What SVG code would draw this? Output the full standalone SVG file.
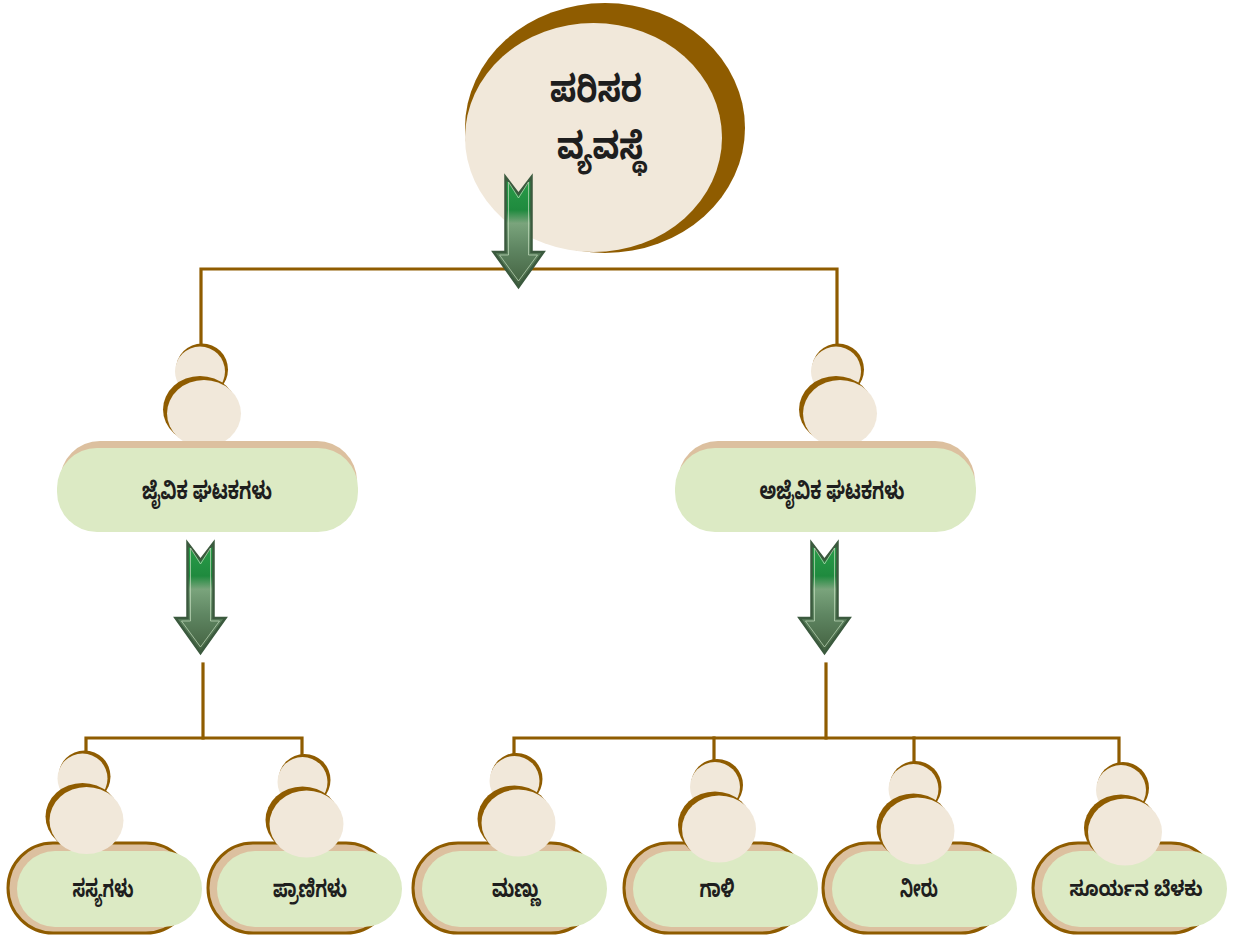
<svg xmlns="http://www.w3.org/2000/svg" xmlns:xlink="http://www.w3.org/1999/xlink" width="1233" height="940" viewBox="0 0 1233 940">
<style>
.ln{fill:none;stroke:#8f5c00;stroke-width:3.2;stroke-linecap:square}
.tx{font-family:"Noto Sans Kannada","Lohit Kannada","Noto Sans",sans-serif;font-weight:bold;fill:#1e1e1e;text-anchor:middle}
.tan{fill:#dcc09f}
.grn{fill:#dceac4}
.obox{fill:#dcc09f;stroke:#8f5c00;stroke-width:3}
</style>
<defs>
<linearGradient id="ag" x1="0" y1="0" x2="0" y2="1">
<stop offset="0" stop-color="#2a9e4a"/>
<stop offset="0.3" stop-color="#1f8a3e"/>
<stop offset="0.42" stop-color="#7aa47c"/>
<stop offset="0.65" stop-color="#5f8662"/>
<stop offset="1" stop-color="#42603f"/>
</linearGradient>
<g id="arrow">
<polygon points="-13,0 0,17 13,0 13,75 25,75 0,110 -25,75 -13,75" fill="url(#ag)" stroke="#3b5a3e" stroke-width="2.5" stroke-linejoin="miter"/>
<polygon points="-10,5 0,21 10,5 10,78 19,78 0,104 -19,78 -10,78" fill="none" stroke="#c3dcbd" stroke-opacity="0.7" stroke-width="1"/>
</g>
<g id="bulb">
<circle cx="-2" cy="-44" r="26" fill="#8f5c00"/>
<circle cx="-4" cy="-42" r="25" fill="#f1e8da"/>
<ellipse cx="-4" cy="-4" rx="37" ry="33.5" fill="#8f5c00"/>
<ellipse cx="0" cy="0" rx="37" ry="33.5" fill="#f1e8da"/>
</g>
</defs>
<rect width="1233" height="940" fill="#ffffff"/>

<g id="connectors">
<polyline class="ln" points="201,345 201,269 837,269 837,345"/>
<line class="ln" x1="203" y1="664" x2="203" y2="738"/>
<polyline class="ln" points="86,751 86,738 302,738 302,754"/>
<line class="ln" x1="826" y1="664" x2="826" y2="738"/>
<polyline class="ln" points="514,754 514,738 1119,738 1119,762"/>
<line class="ln" x1="714" y1="738" x2="714" y2="759"/>
<line class="ln" x1="914" y1="738" x2="914" y2="763"/>
</g>

<g id="node-root">
<ellipse cx="605" cy="128" rx="140" ry="125" fill="#8f5c00"/>
<ellipse cx="593.5" cy="137.5" rx="128.5" ry="114.5" fill="#f1e8da"/>
<text class="tx" x="596" y="102" font-size="37" textLength="92" lengthAdjust="spacingAndGlyphs">ಪರಿಸರ</text>
<text class="tx" x="601" y="159" font-size="37" textLength="88" lengthAdjust="spacingAndGlyphs">ವ್ಯವಸ್ಥೆ</text>
</g>

<g id="arrows">
<use xlink:href="#arrow" href="#arrow" transform="translate(518.5,177)"/>
<use xlink:href="#arrow" href="#arrow" transform="translate(200.5,543)"/>
<use xlink:href="#arrow" href="#arrow" transform="translate(824.5,543)"/>
</g>

<g id="node-biotic">
<use xlink:href="#bulb" href="#bulb" transform="translate(204,413.5)"/>
<rect class="tan" x="60" y="441" width="297" height="80" rx="40"/>
<rect class="grn" x="57" y="448" width="301" height="84" rx="40"/>
<text class="tx" x="207" y="499" font-size="24" textLength="130" lengthAdjust="spacingAndGlyphs">ಜೈವಿಕ ಘಟಕಗಳು</text>
</g>

<g id="node-abiotic">
<use xlink:href="#bulb" href="#bulb" transform="translate(840,413.5)"/>
<rect class="tan" x="678" y="441" width="297" height="80" rx="40"/>
<rect class="grn" x="675" y="448" width="301" height="84" rx="40"/>
<text class="tx" x="832" y="499" font-size="24" textLength="145" lengthAdjust="spacingAndGlyphs">ಅಜೈವಿಕ ಘಟಕಗಳು</text>
</g>

<g id="node-plants">
<rect class="obox" x="8" y="843" width="183" height="90" rx="45"/>
<rect class="grn" x="17" y="851" width="185" height="76" rx="38"/>
<use xlink:href="#bulb" href="#bulb" transform="translate(86.5,820.5)"/>
<text class="tx" x="103" y="897" font-size="24" textLength="61" lengthAdjust="spacingAndGlyphs">ಸಸ್ಯಗಳು</text>
</g>

<g id="node-animals">
<rect class="obox" x="208" y="843" width="183" height="90" rx="45"/>
<rect class="grn" x="217" y="851" width="185" height="76" rx="38"/>
<use xlink:href="#bulb" href="#bulb" transform="translate(306.5,824)"/>
<text class="tx" x="310" y="897" font-size="24" textLength="74" lengthAdjust="spacingAndGlyphs">ಪ್ರಾಣಿಗಳು</text>
</g>

<g id="node-soil">
<rect class="obox" x="413" y="843" width="183" height="90" rx="45"/>
<rect class="grn" x="422" y="851" width="185" height="76" rx="38"/>
<use xlink:href="#bulb" href="#bulb" transform="translate(518.5,823)"/>
<text class="tx" x="516" y="897" font-size="24" textLength="48" lengthAdjust="spacingAndGlyphs">ಮಣ್ಣು</text>
</g>

<g id="node-air">
<rect class="obox" x="624" y="843" width="183" height="90" rx="45"/>
<rect class="grn" x="633" y="851" width="185" height="76" rx="38"/>
<use xlink:href="#bulb" href="#bulb" transform="translate(719,829)"/>
<text class="tx" x="717" y="897" font-size="24" textLength="35" lengthAdjust="spacingAndGlyphs">ಗಾಳಿ</text>
</g>

<g id="node-water">
<rect class="obox" x="823" y="843" width="183" height="90" rx="45"/>
<rect class="grn" x="832" y="851" width="185" height="76" rx="38"/>
<use xlink:href="#bulb" href="#bulb" transform="translate(917.5,831)"/>
<text class="tx" x="919" y="897" font-size="24" textLength="38" lengthAdjust="spacingAndGlyphs">ನೀರು</text>
</g>

<g id="node-sunlight">
<rect class="obox" x="1033" y="843" width="183" height="90" rx="45"/>
<rect class="grn" x="1042" y="851" width="185" height="76" rx="38"/>
<use xlink:href="#bulb" href="#bulb" transform="translate(1125,832)"/>
<text class="tx" x="1136" y="896" font-size="21" textLength="133" lengthAdjust="spacingAndGlyphs">ಸೂರ್ಯನ ಬೆಳಕು</text>
</g>
</svg>
